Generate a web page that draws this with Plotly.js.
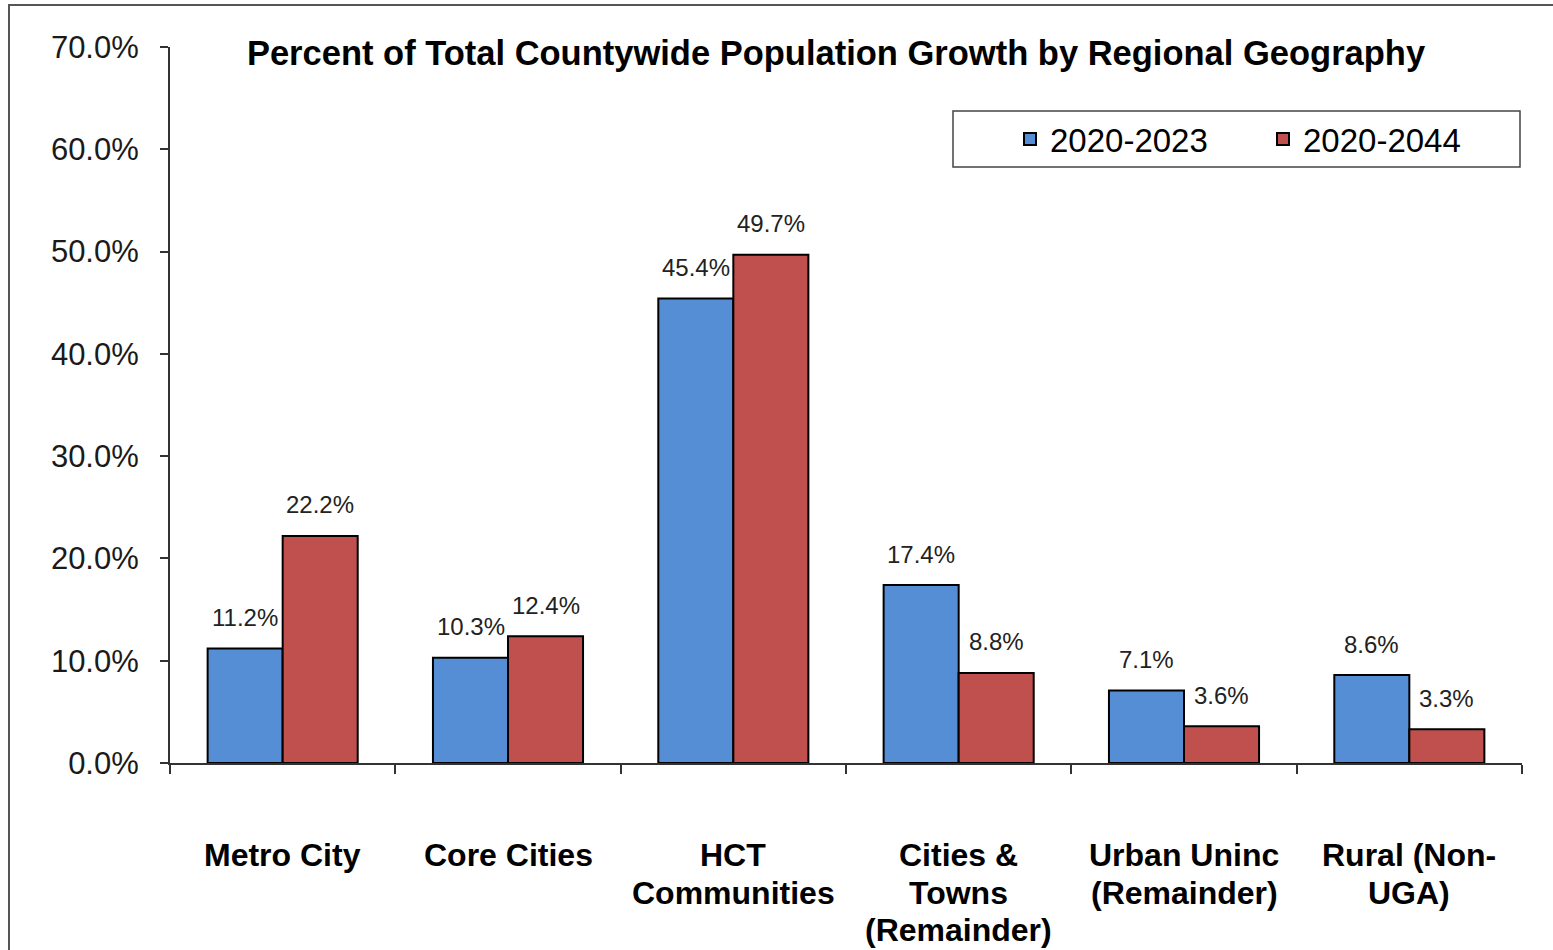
<!DOCTYPE html>
<html>
<head>
<meta charset="utf-8">
<script src="https://cdn.plot.ly/plotly-3.0.1.min.js"></script>
<style>html,body{margin:0;padding:0;background:#fff;}#chart{width:1553px;height:950px;}</style>
</head>
<body>
<div id="chart"></div>
<script>
var categories = ["Metro City", "Core Cities", "HCT<br>Communities", "Cities &<br>Towns<br>(Remainder)", "Urban Uninc<br>(Remainder)", "Rural (Non-<br>UGA)"];
var seriesNames = ["2020-2023", "2020-2044"];
var values2023 = [0.112, 0.103, 0.454, 0.174, 0.071, 0.086];
var values2044 = [0.222, 0.124, 0.497, 0.088, 0.036, 0.033];
var yTickVals = [0, 0.1, 0.2, 0.3, 0.4, 0.5, 0.6, 0.7];
var chartTitle = "Percent of Total Countywide Population Growth by Regional Geography";

var FONT = "Liberation Sans, Arial, sans-serif";
var colors = ["#558ED5", "#C0504D"];

var traces = [values2023, values2044].map(function (vals, i) {
  return {
    type: "bar",
    name: seriesNames[i],
    x: categories,
    y: vals,
    marker: { color: colors[i], line: { color: "#000", width: 2 } },
    hoverinfo: "x+y"
  };
});

var annotations = [];
// data labels
[values2023, values2044].forEach(function (vals, i) {
  vals.forEach(function (v, j) {
    annotations.push({
      x: categories[j], y: v, xref: "x", yref: "y",
      text: (v * 100).toFixed(1) + "%",
      showarrow: false,
      xshift: i === 0 ? -37.5 : 37.5,
      yshift: 31, yanchor: "middle",
      font: { family: FONT, size: 24, color: "#222" }
    });
  });
});
// category labels, one line each (Excel-like line spacing)
categories.forEach(function (c) {
  c.split("<br>").forEach(function (line, k) {
    annotations.push({
      x: c, y: 0, xref: "x", yref: "y",
      text: "<b>" + line + "</b>",
      showarrow: false,
      yshift: -(92 + k * 37.5), yanchor: "middle",
      font: { family: FONT, size: 32, color: "#000" }
    });
  });
});

var layout = {
  width: 1553, height: 950,
  margin: { l: 170, r: 31, t: 47, b: 187 },
  paper_bgcolor: "#fff", plot_bgcolor: "#fff",
  font: { family: FONT, color: "#000" },
  title: {
    text: "<b>" + chartTitle + "</b>",
    font: { family: FONT, size: 34.5, color: "#000" },
    xref: "paper", x: 0.4926, xanchor: "center",
    yref: "container", y: 1 - 53 / 950, yanchor: "middle"
  },
  barmode: "group",
  bargap: 0.334,
  bargroupgap: 0,
  xaxis: {
    type: "category",
    showline: true, linecolor: "#333", linewidth: 2,
    ticks: "outside", ticklen: 9, tickwidth: 2, tickcolor: "#333",
    tickson: "boundaries",
    showgrid: false, zeroline: false,
    showticklabels: false
  },
  yaxis: {
    range: [0, 0.7],
    tickvals: yTickVals,
    tickformat: ".1%",
    showline: true, linecolor: "#333", linewidth: 2,
    ticks: "outside", ticklen: 8, tickwidth: 2, tickcolor: "#333",
    showgrid: false, zeroline: false,
    tickfont: { family: FONT, size: 31, color: "#1a1a1a" },
    ticklabelstandoff: 15
  },
  showlegend: true,
  legend: {
    orientation: "h",
    x: 0.6213, xanchor: "left",
    y: 0.8715, yanchor: "middle",
    font: { family: FONT, size: 33, color: "#000" },
    bgcolor: "rgba(0,0,0,0)",
    borderwidth: 0,
    entrywidth: 208, entrywidthmode: "pixels"
  },
  shapes: [
    { type: "rect", xref: "paper", yref: "paper",
      x0: (953 - 170) / 1352, x1: (1520 - 170) / 1352,
      y0: (763 - 167) / 716, y1: (763 - 111) / 716,
      line: { color: "#444", width: 1.5 }, fillcolor: "rgba(0,0,0,0)", layer: "below" },
    { type: "rect", xref: "paper", yref: "paper",
      x0: (9 - 170) / 1352, x1: (1600 - 170) / 1352,
      y0: (763 - 1000) / 716, y1: (763 - 5) / 716,
      line: { color: "#555", width: 2 }, fillcolor: "rgba(0,0,0,0)", layer: "below" }
  ],
  annotations: annotations
};

Plotly.newPlot("chart", traces, layout, { displayModeBar: false, staticPlot: true });
</script>
</body>
</html>
